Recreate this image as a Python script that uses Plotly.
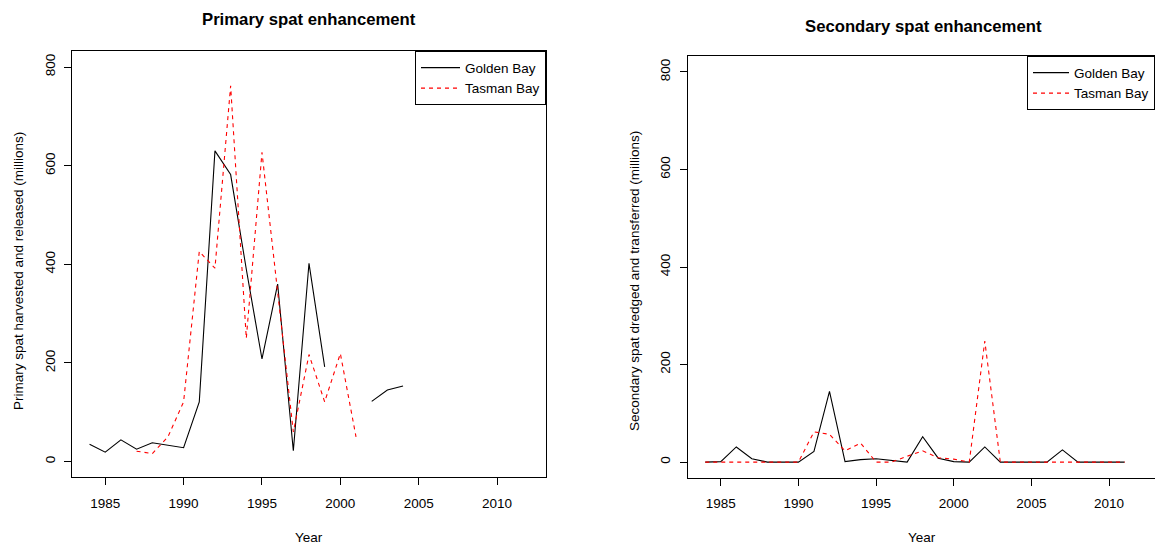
import plotly.graph_objects as go

W, H = 1155, 546

years = list(range(1984, 2012))

# Primary spat harvested and released (millions)
primary_golden = [35, 19, 44, 25, 38, 33, 28, 121, 630, 582, 390, 208, 360, 22,
                  402, 192, None, None, 122, 145, 153,
                  None, None, None, None, None, None, None]
primary_tasman = [None, None, None, 21, 16, 50, 121, 426, 392, 762, 250, 627, 350,
                  60, 217, 121, 219, 50,
                  None, None, None, None, None, None, None, None, None, None]

# Secondary spat dredged and transferred (millions)
secondary_golden = [0, 1, 31, 7, 0, 0, 0, 22, 145, 1, 5, 7, 3, 0, 52, 8, 1, 0,
                    31, 0, 0, 0, 0, 25, 0, 0, 0, 0]
secondary_tasman = [0, 0, 0, 0, 0, 0, 0, 62, 57, 23, 39, 0, 0, 12, 23, 9, 6, 0,
                    248, 0, 0, 0, 0, 0, 0, 0, 0, 0]

x_ticks = [1985, 1990, 1995, 2000, 2005, 2010]
y_ticks = [0, 200, 400, 600, 800]

FONT = "Liberation Sans, Arial, Helvetica, sans-serif"
FS = 13.5


def px(x):
    return x / W


def py(y):
    return 1 - y / H


fig = go.Figure()

fig.add_trace(go.Scatter(x=years, y=primary_golden, mode="lines", name="Golden Bay",
                         line=dict(color="black", width=1.1),
                         xaxis="x", yaxis="y", legend="legend"))
fig.add_trace(go.Scatter(x=years, y=primary_tasman, mode="lines", name="Tasman Bay",
                         line=dict(color="#ff0000", width=1.1, dash="4px,4px"),
                         xaxis="x", yaxis="y", legend="legend"))
fig.add_trace(go.Scatter(x=years, y=secondary_golden, mode="lines", name="Golden Bay",
                         line=dict(color="black", width=1.1),
                         xaxis="x2", yaxis="y2", legend="legend2"))
fig.add_trace(go.Scatter(x=years, y=secondary_tasman, mode="lines", name="Tasman Bay",
                         line=dict(color="#ff0000", width=1.1, dash="4px,4px"),
                         xaxis="x2", yaxis="y2", legend="legend2"))

axis_common = dict(
    showgrid=False, zeroline=False, showline=True, linecolor="black", linewidth=1,
    ticks="outside", ticklen=7, tickwidth=1, tickcolor="black",
    tickfont=dict(family=FONT, size=FS, color="black"),
)

legend_common = dict(
    bordercolor="black", borderwidth=1, bgcolor="white",
    font=dict(family=FONT, size=FS, color="black"),
    tracegroupgap=0,
)

fig.update_layout(
    width=W, height=H, autosize=False,
    margin=dict(l=0, r=0, t=0, b=0),
    paper_bgcolor="white", plot_bgcolor="white",
    font=dict(family=FONT, size=FS, color="black"),
    xaxis=dict(domain=[px(72), px(546)], range=[1982.88, 2013.12], anchor="y",
               tickvals=x_ticks, mirror=True, ticklabelstandoff=6, **axis_common),
    yaxis=dict(domain=[py(477.3), py(51.3)], range=[-32, 832], anchor="x",
               tickvals=y_ticks, mirror=True, tickangle=-90, ticklabelstandoff=4,
               **axis_common),
    xaxis2=dict(domain=[px(687.7), 1.0], range=[1982.87, 2012.96], anchor="y2",
                tickvals=x_ticks, mirror=True, ticklabelstandoff=6, **axis_common),
    yaxis2=dict(domain=[py(477.7), py(56.3)], range=[-32, 832], anchor="x2",
                tickvals=y_ticks, mirror=False, tickangle=-90, ticklabelstandoff=4,
                **axis_common),
    legend=dict(x=px(546), xanchor="right", y=py(51.3), yanchor="top",
                itemwidth=39, **legend_common),
    legend2=dict(x=1.0, xanchor="right", y=py(56.3), yanchor="top",
                 itemwidth=36, **legend_common),
    showlegend=True,
)

annotations = [
    dict(text="<b>Primary spat enhancement</b>", x=px(309), y=py(20),
         font=dict(family=FONT, size=16.7, color="black")),
    dict(text="<b>Secondary spat enhancement</b>", x=px(923), y=py(26),
         font=dict(family=FONT, size=16.7, color="black")),
    dict(text="Year", x=px(309), y=py(537), font=dict(family=FONT, size=FS, color="black")),
    dict(text="Year", x=px(922), y=py(537), font=dict(family=FONT, size=FS, color="black")),
    dict(text="Primary spat harvested and released (millions)", x=px(18), y=py(271),
         textangle=-90, font=dict(family=FONT, size=FS, color="black")),
    dict(text="Secondary spat dredged and transferred (millions)", x=px(634), y=py(281),
         textangle=-90, font=dict(family=FONT, size=FS, color="black")),
]
for a in annotations:
    a.update(xref="paper", yref="paper", showarrow=False, xanchor="center", yanchor="middle")
fig.update_layout(annotations=annotations)

fig.write_html("out.html")
